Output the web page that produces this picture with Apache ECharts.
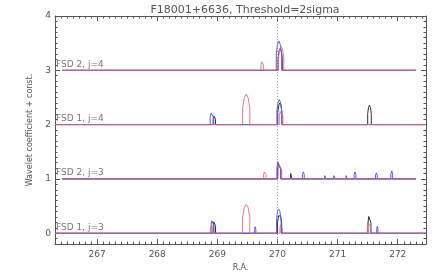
<!DOCTYPE html>
<html><head><meta charset="utf-8">
<script src="https://cdn.jsdelivr.net/npm/echarts@6/dist/echarts.min.js"></script>
<style>html,body{margin:0;padding:0;background:#fff}#c{width:443px;height:277px}</style>
</head><body><div id="c"></div>
<script>
// Tick labels
const xMajorTicks = [267, 268, 269, 270, 271, 272];
const yMajorTicks = [0, 1, 2, 3, 4];
const panelLabels = ['FSD 1, j=3', 'FSD 2, j=3', 'FSD 1, j=4', 'FSD 2, j=4'];
const panelOffsets = [0, 1, 2, 3];
const panelStart = [266.3, 266.42, 266.3, 266.42];
const panelEnd = [272.47, 272.3, 272.47, 272.3];

// Wavelet coefficient bumps (R.A., coefficient)
const fsd1j3_black = [[268.93,0],[268.93,.13],[268.94,.21],[268.95,.23],[268.96,.21],[268.97,.13],[268.97,0],
  [270.00,0],[270.00,.19],[270.018,.32],[270.035,.35],[270.052,.32],[270.07,.19],[270.07,0],
  [271.505,0],[271.505,.19],[271.518,.31],[271.53,.34],[271.542,.31],[271.555,.19],[271.555,0]];
const fsd1j3_blue = [[268.895,0],[268.895,.14],[268.908,.23],[268.92,.25],[268.932,.23],[268.945,.14],[268.945,0],
  [269.62,0],[269.62,.07],[269.63,.12],[269.64,.07],[269.64,0],
  [269.985,0],[269.985,.24],[270.0,.40],[270.02,.44],[270.04,.40],[270.06,.24],[270.06,0],
  [271.65,0],[271.65,.07],[271.66,.13],[271.67,.07],[271.67,0]];
const fsd1j3_red = [[268.885,0],[268.885,.08],[268.9,.14],[268.915,.08],[268.915,0],
  [269.42,0],[269.42,.29],[269.45,.48],[269.48,.53],[269.51,.48],[269.54,.29],[269.54,0],
  [270.04,0],[270.04,.09],[270.05,.15],[270.06,.17],[270.07,.15],[270.08,.09],[270.08,0],
  [271.495,0],[271.495,.12],[271.508,.2],[271.52,.22],[271.532,.2],[271.545,.12],[271.545,0]];

const fsd2j3_black = [[270.0,0],[270.0,.17],[270.015,.28],[270.03,.31],[270.045,.28],[270.06,.17],[270.06,0],
  [270.22,0],[270.22,.1],[270.23,.12],[270.24,.1],[270.24,0]];
const fsd2j3_blue = [[269.99,0],[269.99,.19],[270.005,.32],[270.02,.35],[270.035,.32],[270.05,.19],[270.05,0],
  [270.415,0],[270.415,.08],[270.43,.13],[270.445,.08],[270.445,0],
  [270.785,0],[270.785,.06],[270.795,.09],[270.805,.06],[270.805,0],
  [270.935,0],[270.935,.06],[270.945,.09],[270.955,.06],[270.955,0],
  [271.14,0],[271.14,.06],[271.15,.09],[271.16,.06],[271.16,0],
  [271.275,0],[271.275,.08],[271.29,.13],[271.305,.08],[271.305,0],
  [271.63,0],[271.63,.07],[271.645,.11],[271.66,.07],[271.66,0],
  [271.885,0],[271.885,.09],[271.9,.15],[271.915,.09],[271.915,0]];
const fsd2j3_red = [[269.77,0],[269.77,.08],[269.78,.13],[269.79,.14],[269.80,.13],[269.81,.08],[269.81,0],
  [270.01,0],[270.01,.16],[270.025,.26],[270.04,.29],[270.055,.26],[270.07,.16],[270.07,0]];

const fsd1j4_black = [[268.93,0],[268.93,.1],[268.94,.16],[268.95,.18],[268.96,.16],[268.97,.1],[268.97,0],
  [270.005,0],[270.005,.22],[270.022,.36],[270.04,.40],[270.058,.36],[270.075,.22],[270.075,0],
  [271.50,0],[271.50,.2],[271.515,.32],[271.53,.36],[271.545,.32],[271.56,.2],[271.56,0]];
const fsd1j4_blue = [[268.88,0],[268.88,.13],[268.895,.21],[268.91,.23],[268.925,.21],[268.94,.13],[268.94,0],
  [269.99,0],[269.99,.25],[270.01,.41],[270.03,.46],[270.05,.41],[270.07,.25],[270.07,0]];
const fsd1j4_red = [[269.42,0],[269.42,.31],[269.45,.5],[269.48,.56],[269.51,.5],[269.54,.31],[269.54,0],
  [270.03,0],[270.03,.15],[270.045,.24],[270.06,.27],[270.075,.24],[270.09,.15],[270.09,0]];

const fsd2j4_black = [[270.01,0],[270.01,.22],[270.028,.36],[270.045,.40],[270.062,.36],[270.08,.22],[270.08,0]];
const fsd2j4_blue = [[269.98,0],[269.98,.3],[270.0,.48],[270.022,.54],[270.045,.48],[270.07,.3],[270.07,0]];
const fsd2j4_red = [[269.725,0],[269.725,.1],[269.735,.16],[269.745,.18],[269.755,.16],[269.765,.1],[269.765,0],
  [270.015,0],[270.015,.24],[270.038,.39],[270.06,.44],[270.082,.39],[270.105,.24],[270.105,0]];

const panels = [
  [fsd1j3_black, fsd1j3_blue, fsd1j3_red],
  [fsd2j3_black, fsd2j3_blue, fsd2j3_red],
  [fsd1j4_black, fsd1j4_blue, fsd1j4_red],
  [fsd2j4_black, fsd2j4_blue, fsd2j4_red]
];
const lineColors = ['#333333', '#5a5aff', '#dd6677'];

const X_MIN = 266.3, X_MAX = 272.47, Y_MIN = -0.2, Y_MAX = 4;
const xMinor = []; for (let i = 0; i <= 61; i++) xMinor.push(+(266.3 + i * 0.1).toFixed(1));
const yMinor = []; for (let i = 0; i <= 42; i++) yMinor.push(+(-0.2 + i * 0.1).toFixed(1));

const series = [];
panels.forEach((p, pi) => {
  const off = panelOffsets[pi];
  p.forEach((pts, ci) => {
    const data = [[panelStart[pi], off]].concat(pts.map(q => [q[0], q[1] + off])).concat([[panelEnd[pi], off]]);
    series.push({
      type: 'line', data: data, showSymbol: false, symbol: 'none', animation: false,
      lineStyle: {width: 1, color: lineColors[ci], opacity: ci === 2 ? 0.85 : 1},
      z: 2 + ci, silent: true
    });
  });
});
series.push({
  type: 'line', data: [[270, Y_MIN], [270, Y_MAX]], symbol: 'none', animation: false, silent: true,
  lineStyle: {width: 1, color: '#999', type: [1, 2]}, z: 1
});
series.push({
  type: 'scatter', symbolSize: 0, animation: false, silent: true,
  data: panelLabels.map((t, i) => [X_MIN, panelOffsets[i], t]),
  label: {show: true, position: 'right', distance: 0, offset: [1, -6], formatter: p => p.data[2],
    fontSize: 9, color: '#555', fontFamily: 'DejaVu Sans'}, z: 10
});

const axCol = '#555';
function xAx(pos, major, withLabel) {
  return {
    type: 'value', position: pos, min: X_MIN, max: X_MAX, gridIndex: 0,
    axisLine: {show: major, lineStyle: {color: axCol, width: 1}, onZero: false},
    axisTick: {show: true, inside: true, length: major ? 5 : 2.5, customValues: major ? xMajorTicks : xMinor,
      lineStyle: {color: axCol, width: 1}},
    axisLabel: withLabel ? {show: true, customValues: xMajorTicks, fontSize: 9, color: '#555', fontFamily: 'DejaVu Sans', margin: 6} : {show: false},
    splitLine: {show: false},
    name: withLabel ? 'R.A.' : '', nameLocation: 'middle', nameGap: 17,
    nameTextStyle: {fontSize: 8, color: '#555', fontFamily: 'DejaVu Sans'}
  };
}
function yAx(pos, major, withLabel) {
  return {
    type: 'value', position: pos, min: Y_MIN, max: Y_MAX, gridIndex: 0,
    axisLine: {show: major, lineStyle: {color: axCol, width: 1}, onZero: false},
    axisTick: {show: true, inside: true, length: major ? 5 : 2.5, customValues: major ? yMajorTicks : yMinor,
      lineStyle: {color: axCol, width: 1}},
    axisLabel: withLabel ? {show: true, customValues: yMajorTicks, fontSize: 9, color: '#555', fontFamily: 'DejaVu Sans', margin: 4} : {show: false},
    splitLine: {show: false},
    name: withLabel ? 'Wavelet coefficient + const.' : '', nameLocation: 'middle', nameGap: 15,
    nameTextStyle: {fontSize: 8, color: '#555', fontFamily: 'DejaVu Sans'}
  };
}

const chart = echarts.init(document.getElementById('c'), null, {renderer: 'canvas'});
chart.setOption({
  backgroundColor: '#fff',
  animation: false,
  title: {text: 'F18001+6636, Threshold=2sigma', left: 240, textAlign: 'center', top: 0,
    textStyle: {fontSize: 11, fontWeight: 'normal', color: '#555', fontFamily: 'DejaVu Sans'}},
  grid: {left: 55, right: 17, top: 16, bottom: 32, containLabel: false},
  xAxis: [xAx('bottom', true, true), xAx('bottom', false, false), xAx('top', true, false), xAx('top', false, false)],
  yAxis: [yAx('left', true, true), yAx('left', false, false), yAx('right', true, false), yAx('right', false, false)],
  series: series
});
</script></body></html>
